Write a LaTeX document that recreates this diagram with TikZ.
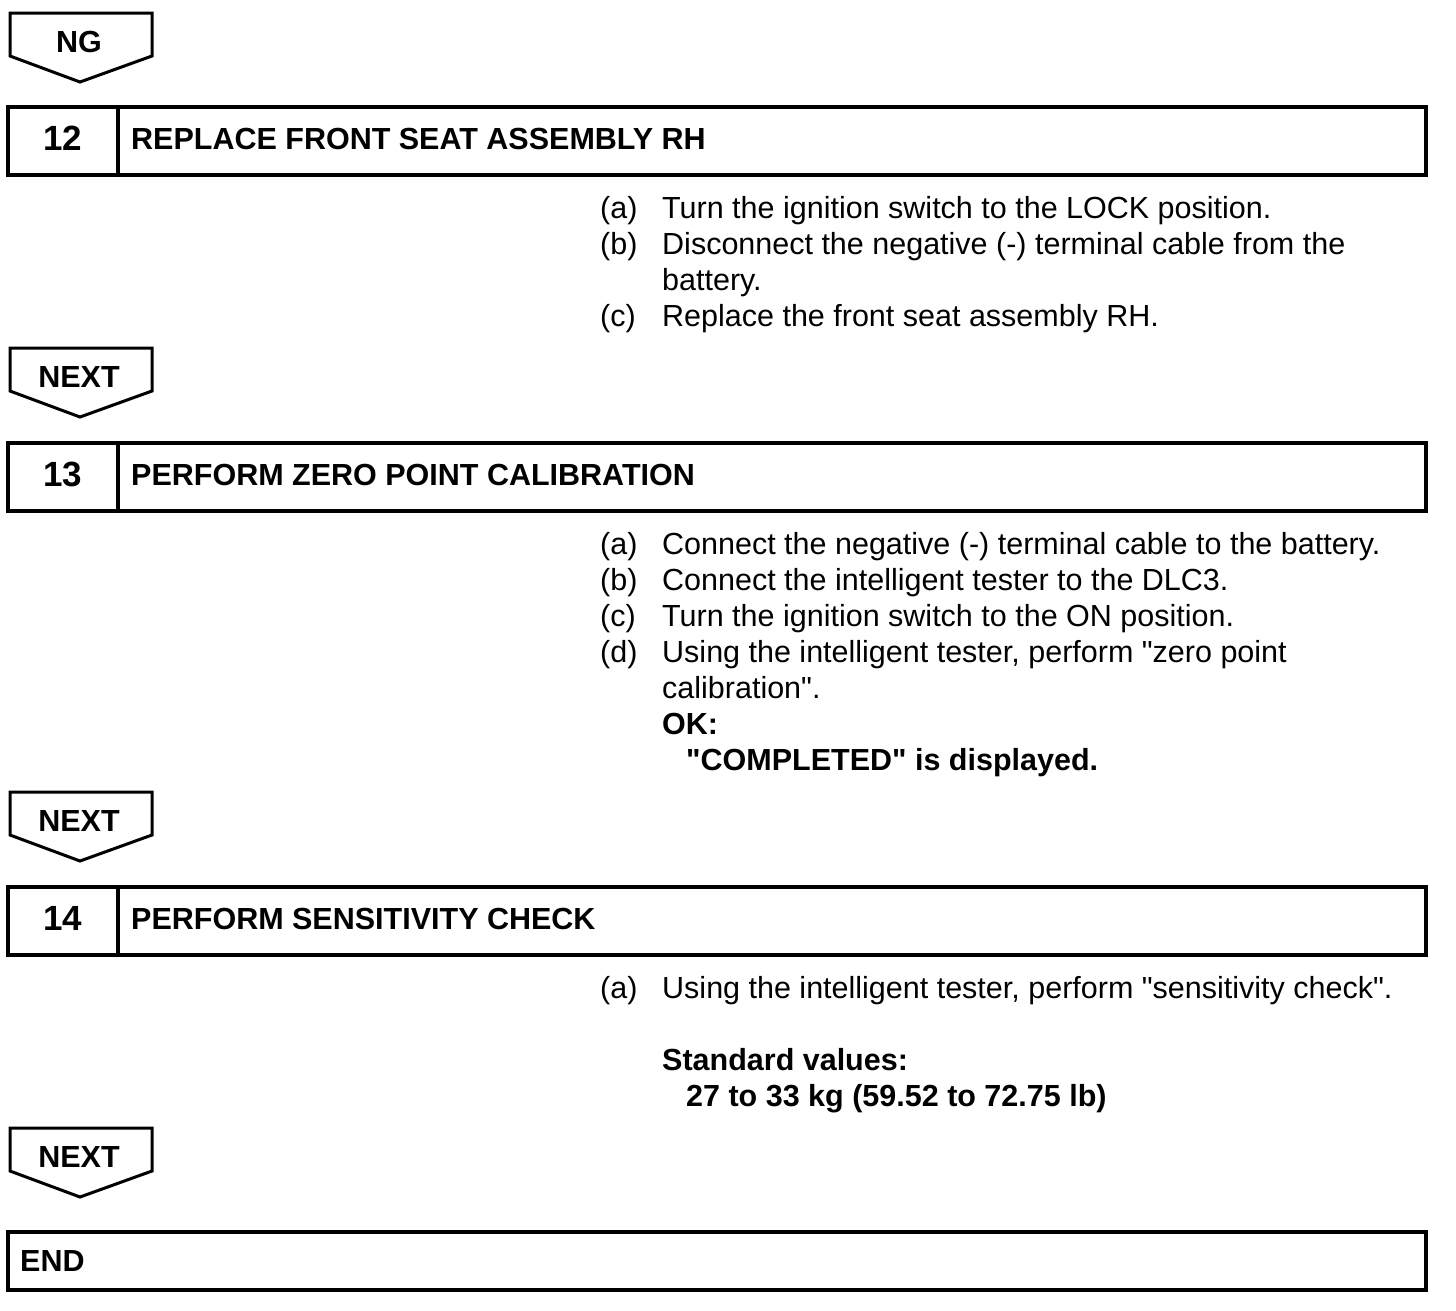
\documentclass[tikz,border=0pt]{standalone}
\usepackage{fontspec}
\newfontfamily\lsans{Liberation Sans}
\setmainfont{Liberation Sans}
\newcommand\flowarrow[3]{%
  \draw[arrowline] (10,#1) -- (152,#1) -- (152,#1+43) -- (80,#1+69) -- (10,#1+43) -- cycle;
  \node[boldtext, anchor=base] (#3) at (79,#1+39) {#2};}
\newcommand\stepbox[5]{%
  \draw[boxline] (8,#1) rectangle (1426,#1+68);
  \draw[boxline] (118,#1) -- (118,#1+68);
  \node[numtext] (#4) at (63,#1+43) {#2};
  \node[boldtext] (#5) at (131,#1+42) {#3};}
\begin{document}
\begin{tikzpicture}[x=1pt,y=-1pt,
  boxline/.style={line width=4pt},
  arrowline/.style={line width=3pt, line join=miter},
  bodytext/.style={inner sep=0pt, anchor=base west, font=\lsans\fontsize{30.5}{36}\selectfont},
  boldtext/.style={inner sep=0pt, anchor=base west, font=\lsans\fontsize{30.5}{36}\selectfont\bfseries},
  numtext/.style={inner sep=0pt, anchor=base, font=\lsans\fontsize{35}{40}\selectfont\bfseries}]
\useasboundingbox (0,0) rectangle (1456,1310);

\flowarrow{13}{NG}{ng}
\stepbox{107}{12}{REPLACE FRONT SEAT ASSEMBLY RH}{n12}{t12}
\node[bodytext] (a12l) at (600,218) {(a)};
\node[bodytext] (a12) at (662,218) {Turn the ignition switch to the LOCK position.};
\node[bodytext] (b12l) at (600,254) {(b)};
\node[bodytext] (b12) at (662,254) {Disconnect the negative (-) terminal cable from the};
\node[bodytext] (b12x) at (662,290) {battery.};
\node[bodytext] (c12l) at (600,326) {(c)};
\node[bodytext] (c12) at (662,326) {Replace the front seat assembly RH.};

\flowarrow{348}{NEXT}{next1}
\stepbox{443}{13}{PERFORM ZERO POINT CALIBRATION}{n13}{t13}
\node[bodytext] (a13l) at (600,554) {(a)};
\node[bodytext] (a13) at (662,554) {Connect the negative (-) terminal cable to the battery.};
\node[bodytext] (b13l) at (600,590) {(b)};
\node[bodytext] (b13) at (662,590) {Connect the intelligent tester to the DLC3.};
\node[bodytext] (c13l) at (600,626) {(c)};
\node[bodytext] (c13) at (662,626) {Turn the ignition switch to the ON position.};
\node[bodytext] (d13l) at (600,662) {(d)};
\node[bodytext] (d13) at (662,662) {Using the intelligent tester, perform "zero point};
\node[bodytext] (d13x) at (662,698) {calibration".};
\node[boldtext] (ok13) at (662,734) {OK:};
\node[boldtext] (ok13v) at (686,770) {"COMPLETED" is displayed.};

\flowarrow{792}{NEXT}{next2}
\stepbox{887}{14}{PERFORM SENSITIVITY CHECK}{n14}{t14}
\node[bodytext] (a14l) at (600,998) {(a)};
\node[bodytext] (a14) at (662,998) {Using the intelligent tester, perform "sensitivity check".};
\node[boldtext] (sv14) at (662,1070) {Standard values:};
\node[boldtext] (sv14v) at (686,1106) {27 to 33 kg (59.52 to 72.75 lb)};

\flowarrow{1128}{NEXT}{next3}
\draw[boxline] (8,1232) rectangle (1426,1290);
\node[boldtext] (endt) at (20,1271) {END};
\end{tikzpicture}
\end{document}
